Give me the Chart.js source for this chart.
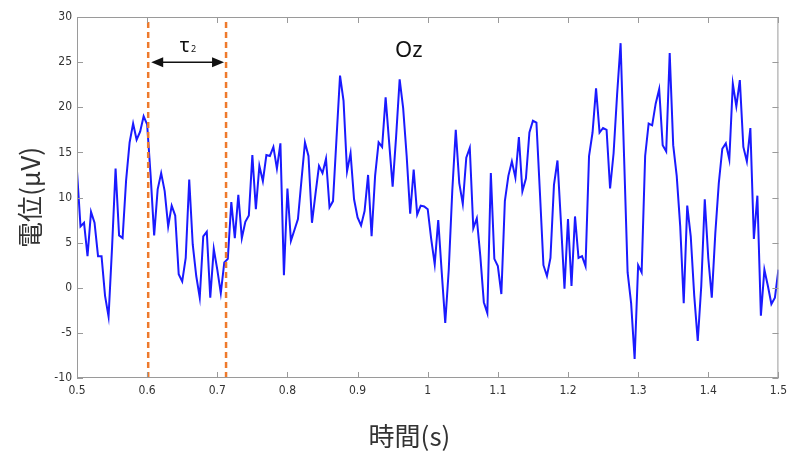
<!DOCTYPE html>
<html>
<head>
<meta charset="utf-8">
<script src="https://cdn.jsdelivr.net/npm/chart.js@4/dist/chart.umd.min.js"></script>
<style>
  html, body { margin: 0; padding: 0; background: #fff; }
</style>
</head>
<body>
<canvas id="myChart" width="793" height="456"></canvas>
<script>
/* Oz channel, 200 Hz samples from 0.5 s to 1.5 s */
const t0 = 0.5;
const dt = 0.005;
const potential = [
  12.9, 6.8, 7.2, 3.5, 8.4, 7.2, 3.5, 3.5, -0.9, -3.2,
  4.5, 13.2, 5.8, 5.5, 11.9, 16.1, 18.2, 16.4, 17.3, 19.0,
  18.1, 12.4, 5.8, 10.9, 12.7, 10.7, 6.8, 9.1, 8.0, 1.5,
  0.7, 3.3, 12.0, 4.8, 1.3, -1.1, 5.7, 6.2, -1.1, 4.3,
  2.0, -0.6, 2.8, 3.2, 9.5, 5.5, 10.3, 5.5, 7.3, 8.0,
  14.7, 8.7, 13.5, 11.8, 14.7, 14.6, 15.6, 13.2, 16.0, 1.4,
  11.0, 5.2, 6.4, 7.6, 11.9, 16.1, 14.6, 7.2, 10.4, 13.5,
  12.7, 14.3, 8.9, 9.6, 16.6, 23.5, 20.7, 12.9, 14.9, 9.8,
  7.8, 6.9, 8.5, 12.5, 5.7, 12.4, 16.1, 15.6, 21.1, 16.1,
  11.2, 16.8, 23.1, 19.9, 14.6, 8.2, 13.1, 8.1, 9.1, 9.0,
  8.7, 5.4, 2.6, 7.5, 1.7, -3.9, 2.0, 10.7, 17.5, 11.6,
  9.3, 14.4, 15.5, 6.6, 7.7, 3.5, -1.6, -2.8, 12.7, 3.2,
  2.4, -0.7, 9.6, 12.4, 14.0, 12.2, 16.7, 10.7, 12.1, 17.2,
  18.5, 18.3, 10.5, 2.5, 1.3, 3.3, 11.4, 14.1, 7.2, -0.1,
  7.6, 0.2, 7.9, 3.3, 3.5, 2.4, 14.6, 17.2, 22.1, 17.2,
  17.7, 17.5, 11.0, 14.9, 21.4, 27.1, 14.4, 1.7, -1.7, -7.9,
  2.5, 1.7, 14.6, 18.2, 18.0, 20.4, 22.0, 15.8, 15.1, 26.0,
  15.8, 12.4, 6.8, -1.7, 9.1, 5.7, -0.9, -5.9, 0.2, 9.8,
  3.3, -1.1, 6.0, 11.6, 15.4, 16.0, 14.2, 22.6, 20.1, 23.0,
  15.6, 14.0, 17.7, 5.4, 10.2, -3.1, 2.0, 0.2, -1.8, -1.1,
  2.0
];
const xTicks = [0.5, 0.6, 0.7, 0.8, 0.9, 1, 1.1, 1.2, 1.3, 1.4, 1.5];
const yTicks = [-10, -5, 0, 5, 10, 15, 20, 25, 30];
const markers = [0.6015, 0.7125];   // dashed lines bounding tau2
const arrowLevel = 25;
const channelName = 'Oz';
const channelPos = [0.973, 26.3];
const xTitle = '時間(s)';

const points = potential.map((v, i) => ({x: +(t0 + i * dt).toFixed(3), y: v}));

const tickFont = {family: "'Liberation Sans Narrow', 'DejaVu Sans Condensed', 'Liberation Sans', sans-serif", size: 12};
const cjkFont = "'Noto Sans CJK JP', 'Noto Sans', sans-serif";

// box round the plot with inward ticks (matlab style) + tau arrow + labels
const decorations = {
  id: 'decorations',
  afterDatasetsDraw(chart) {
    const {ctx, chartArea: a, scales: {x, y}} = chart;
    ctx.save();
    ctx.strokeStyle = '#9a9a9a';
    ctx.lineWidth = 1;
    ctx.beginPath();
    ctx.rect(a.left + 0.5, a.top + 0.5, a.right - a.left - 1, a.bottom - a.top - 1);
    const tl = 6;
    xTicks.forEach(v => {
      const px = Math.round(x.getPixelForValue(v)) + 0.5;
      ctx.moveTo(px, a.bottom); ctx.lineTo(px, a.bottom - tl);
      ctx.moveTo(px, a.top); ctx.lineTo(px, a.top + tl);
    });
    yTicks.forEach(v => {
      const py = Math.round(y.getPixelForValue(v)) + 0.5;
      ctx.moveTo(a.left, py); ctx.lineTo(a.left + tl, py);
      ctx.moveTo(a.right, py); ctx.lineTo(a.right - tl, py);
    });
    ctx.stroke();

    // double arrow between the markers
    const x1 = x.getPixelForValue(markers[0]) + 3;
    const x2 = x.getPixelForValue(markers[1]) - 2;
    const ay = y.getPixelForValue(arrowLevel);
    ctx.strokeStyle = '#111';
    ctx.fillStyle = '#111';
    ctx.lineWidth = 1.5;
    ctx.beginPath();
    ctx.moveTo(x1 + 10, ay); ctx.lineTo(x2 - 10, ay);
    ctx.stroke();
    ctx.beginPath();
    ctx.moveTo(x1, ay); ctx.lineTo(x1 + 12, ay - 5); ctx.lineTo(x1 + 12, ay + 5); ctx.closePath();
    ctx.moveTo(x2, ay); ctx.lineTo(x2 - 12, ay - 5); ctx.lineTo(x2 - 12, ay + 5); ctx.closePath();
    ctx.fill();

    const mid = (x1 + x2) / 2;
    ctx.font = "20px 'Noto Sans', sans-serif";
    ctx.textAlign = 'center';
    ctx.textBaseline = 'alphabetic';
    ctx.fillText('τ', mid - 3, ay - 10);
    ctx.font = "9px 'Noto Sans', sans-serif";
    ctx.fillText('2', mid + 6, ay - 10);

    ctx.font = "22px 'Noto Sans', sans-serif";
    ctx.textBaseline = 'middle';
    ctx.fillText(channelName, x.getPixelForValue(channelPos[0]), y.getPixelForValue(channelPos[1]));

    // x axis title sits a little left of the plot centre in the original
    ctx.fillStyle = '#333';
    ctx.font = "26px " + cjkFont;
    ctx.fillText(xTitle, x.getPixelForValue(0.974), 436);
    ctx.restore();
  }
};

const datasets = [{
  data: points,
  borderColor: '#1a1aff',
  borderWidth: 2,
  pointRadius: 0,
  tension: 0,
  order: 2
}];
markers.forEach(m => datasets.push({
  data: [{x: m, y: -10}, {x: m, y: 30}],
  borderColor: '#ee7a2c',
  borderWidth: 2.5,
  borderDash: [6, 4],
  pointRadius: 0,
  order: 1
}));

new Chart(document.getElementById('myChart'), {
  type: 'line',
  data: {datasets: datasets},
  plugins: [decorations],
  options: {
    responsive: false,
    animation: false,
    events: [],
    layout: {padding: {top: 17, right: 12, left: 0, bottom: 0}},
    plugins: {legend: {display: false}, tooltip: {enabled: false}},
    scales: {
      x: {
        type: 'linear',
        min: 0.5,
        max: 1.5,
        afterBuildTicks: s => { s.ticks = xTicks.map(v => ({value: v})); },
        afterFit: s => { s.height = 78; },
        grid: {display: false, drawTicks: false},
        border: {display: false},
        ticks: {
          padding: 6,
          color: '#333',
          font: tickFont,
          maxRotation: 0,
          callback: v => String(+v.toFixed(1))
        }
      },
      y: {
        min: -10,
        max: 30,
        afterBuildTicks: s => { s.ticks = yTicks.map(v => ({value: v})); },
        afterFit: s => { s.width = 77; },
        grid: {display: false, drawTicks: false},
        border: {display: false},
        ticks: {
          padding: 5,
          color: '#333',
          font: tickFont,
          callback: v => String(v)
        },
        title: {
          display: true,
          text: '電位(μV)',
          color: '#333',
          font: {family: cjkFont, size: 26},
          padding: {top: 15, bottom: 0}
        }
      }
    }
  }
});
</script>
</body>
</html>
